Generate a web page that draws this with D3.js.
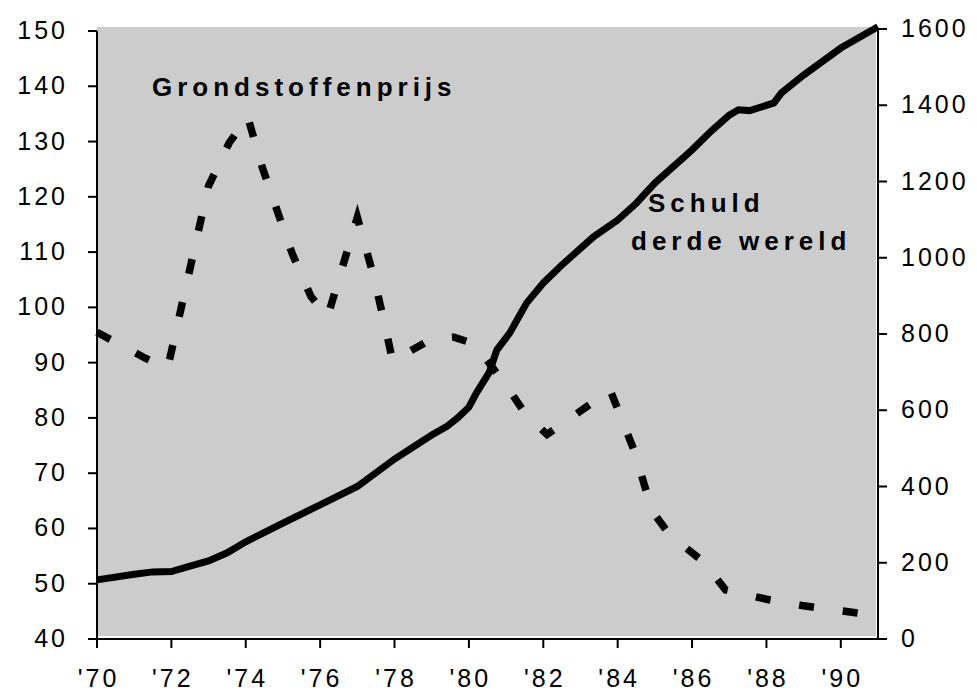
<!DOCTYPE html>
<html>
<head>
    <meta charset="utf-8">
    <title>Grondstoffenprijs en schuld derde wereld</title>
    <script src="https://d3js.org/d3.v7.min.js"></script>
    <style>
        body {
            margin: 0;
            background: #fff;
        }

        .tick-label {
            font: 25px "Liberation Sans", Arial, sans-serif;
            letter-spacing: 3px;
            fill: #000;
        }

        .note {
            font: bold 26px "Liberation Sans", Arial, sans-serif;
            letter-spacing: 5px;
            fill: #000;
        }

        .axis-line {
            stroke: #000;
            stroke-width: 2px;
            fill: none;
        }
    </style>
</head>

<body>
<div id="chart"></div>

<script>
    // debt of the third world (right axis)
    const debtYears = [1970, 1971, 1971.5, 1972, 1972.5, 1973, 1973.5, 1974, 1975, 1976,
        1977, 1978, 1979, 1979.4, 1979.7, 1980, 1980.2, 1980.55, 1980.75, 1981.1,
        1981.4, 1981.55, 1982, 1982.5, 1983.35, 1984, 1984.5, 1985, 1986, 1986.5,
        1987, 1987.25, 1987.55, 1988.2, 1988.4, 1989, 1990, 1991];
    const debtValues = [155, 170, 176, 177, 191, 205, 226, 255, 304, 352,
        400, 472, 535, 557, 580, 608, 645, 700, 758, 803,
        855, 881, 934, 981, 1055, 1099, 1143, 1196, 1283, 1331,
        1374, 1388, 1386, 1406, 1432, 1479, 1550, 1606];

    // commodity price index (left axis)
    const priceYears = [1970, 1971.3, 1971.9, 1973, 1973.55, 1974.05, 1974.45, 1974.85, 1975.25, 1975.75,
        1976.2, 1977, 1977.45, 1977.72, 1977.95, 1979, 1979.6, 1980.05, 1980.4, 1981.05,
        1981.5, 1982.1, 1983.8, 1984.45, 1984.8, 1985, 1985.4, 1986.3, 1986.9, 1988,
        1989, 1990, 1991];
    const priceValues = [95.5, 90.8, 89, 122, 129.7, 134.5, 125.2, 117.4, 109.7, 102,
        98.3, 116.3, 105.3, 97.4, 90.3, 94.3, 94.6, 93.6, 91.2, 85.4,
        80.9, 77, 85, 74, 66, 62.5, 58.8, 54, 48.9, 47.2,
        46, 45.1, 44.2];

    const xTicks = [1970, 1972, 1974, 1976, 1978, 1980, 1982, 1984, 1986, 1988, 1990];
    const leftTicks = [40, 50, 60, 70, 80, 90, 100, 110, 120, 130, 140, 150];
    const rightTicks = [0, 200, 400, 600, 800, 1000, 1200, 1400, 1600];

    const width = 977;
    const height = 693;
    const plotLeft = 97, plotRight = 878, plotTop = 29, plotBottom = 639;

    const svg = d3.select("#chart")
        .append("svg")
        .attr("width", width)
        .attr("height", height);

    const x = d3.scaleLinear().domain([1970, 1991]).range([plotLeft, plotRight]);
    const yLeft = d3.scaleLinear().domain([40, 150]).range([plotBottom, plotTop + 2]);
    const yRight = d3.scaleLinear().domain([0, 1600]).range([plotBottom, plotTop]);

    // grey plot background, slightly inset from the axes
    svg.append("rect")
        .attr("x", plotLeft)
        .attr("y", 27)
        .attr("width", plotRight - plotLeft - 2)
        .attr("height", plotBottom - 3 - 27)
        .attr("fill", "#cccccc");

    // axes drawn by hand to match the old spreadsheet look
    svg.append("line").attr("class", "axis-line")
        .attr("x1", plotLeft).attr("x2", plotLeft)
        .attr("y1", yLeft(150)).attr("y2", plotBottom);
    svg.append("line").attr("class", "axis-line")
        .attr("x1", plotRight).attr("x2", plotRight)
        .attr("y1", yRight(1600)).attr("y2", plotBottom);
    svg.append("line").attr("class", "axis-line")
        .attr("x1", plotLeft - 9).attr("x2", plotRight + 9)
        .attr("y1", plotBottom).attr("y2", plotBottom);

    svg.selectAll(".ltick")
        .data(leftTicks)
        .enter().append("line")
        .attr("class", "axis-line ltick")
        .attr("x1", plotLeft - 9).attr("x2", plotLeft)
        .attr("y1", d => yLeft(d)).attr("y2", d => yLeft(d));

    svg.selectAll(".llabel")
        .data(leftTicks)
        .enter().append("text")
        .attr("class", "tick-label llabel")
        .attr("text-anchor", "end")
        .attr("x", 68)
        .attr("y", d => yLeft(d) + 8)
        .text(d => d);

    svg.selectAll(".rtick")
        .data(rightTicks)
        .enter().append("line")
        .attr("class", "axis-line rtick")
        .attr("x1", plotRight).attr("x2", plotRight + 9)
        .attr("y1", d => yRight(d)).attr("y2", d => yRight(d));

    svg.selectAll(".rlabel")
        .data(rightTicks)
        .enter().append("text")
        .attr("class", "tick-label rlabel")
        .attr("x", 901)
        .attr("y", d => yRight(d) + 8)
        .text(d => d);

    svg.selectAll(".xtick")
        .data(xTicks)
        .enter().append("line")
        .attr("class", "axis-line xtick")
        .attr("x1", d => x(d)).attr("x2", d => x(d))
        .attr("y1", plotBottom).attr("y2", plotBottom + 9);

    svg.selectAll(".xlabel")
        .data(xTicks)
        .enter().append("text")
        .attr("class", "tick-label xlabel")
        .attr("text-anchor", "middle")
        .attr("x", d => x(d) + 1.5)
        .attr("y", 687)
        .text(d => "'" + String(d).slice(2));

    // the two series
    const debt = debtYears.map((yr, i) => [yr, debtValues[i]]);
    const price = priceYears.map((yr, i) => [yr, priceValues[i]]);

    svg.append("path")
        .datum(price)
        .attr("fill", "none")
        .attr("stroke", "#000")
        .attr("stroke-width", 7.5)
        .attr("stroke-dasharray", "15,29")
        .attr("stroke-linejoin", "miter")
        .attr("d", d3.line().x(d => x(d[0])).y(d => yLeft(d[1])));

    svg.append("path")
        .datum(debt)
        .attr("fill", "none")
        .attr("stroke", "#000")
        .attr("stroke-width", 7)
        .attr("stroke-linejoin", "miter")
        .attr("d", d3.line().x(d => x(d[0])).y(d => yRight(d[1])));

    // labels inside the plot
    svg.append("text").attr("class", "note")
        .attr("x", 152).attr("y", 96)
        .text("Grondstoffenprijs");
    svg.append("text").attr("class", "note")
        .attr("x", 648).attr("y", 212)
        .text("Schuld");
    svg.append("text").attr("class", "note")
        .attr("x", 631).attr("y", 250)
        .text("derde wereld");
</script>
</body>
</html>
